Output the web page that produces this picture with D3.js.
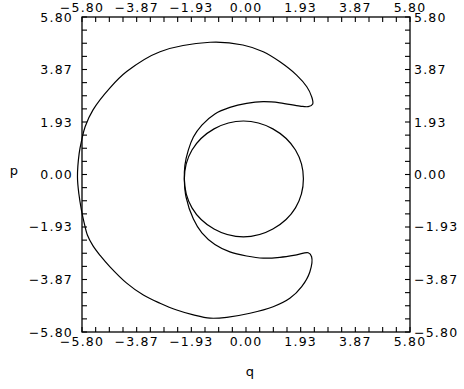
<!DOCTYPE html>
<html>
<head>
<meta charset="utf-8">
<script src="https://cdn.jsdelivr.net/npm/d3@7"></script>
<style>
  html, body { margin: 0; padding: 0; background: #fff; }
  svg { display: block; }
  text { font-family: "DejaVu Sans", sans-serif; fill: #000; }
</style>
</head>
<body>
<div id="chart"></div>
<script>
// axis ticks
const tickValues = [-5.80, -3.8667, -1.9333, 0.00, 1.9333, 3.8667, 5.80];
const tickLabels = ["\u22125.80", "\u22123.87", "\u22121.93", "0.00", "1.93", "3.87", "5.80"];

// crescent shaped orbit (q, p)
const orbitQ = [-5.96, -5.90, -5.81, -5.69, -5.41, -4.81, -4.22, -3.04, -1.27, -0.11,
  0.61, 1.20, 1.79, 2.15, 2.32, 2.36, 2.20, 1.91, 1.20, 0.61,
  0.02, -0.57, -1.10, -1.56, -1.86, -2.04, -2.16, -2.18, -2.12, -1.86,
  -1.56, -1.10, -0.57, 0.02, 0.61, 1.20, 1.79, 2.20, 2.32, 2.26,
  1.97, 1.55, 0.96, 0.14, -0.68, -1.27, -1.86, -2.45, -3.04, -3.63,
  -4.22, -4.81, -5.16, -5.41, -5.61, -5.73, -5.82, -5.91];
const orbitP = [-0.09, 0.78, 1.27, 1.76, 2.38, 3.19, 3.79, 4.52, 4.87, 4.77,
  4.52, 4.15, 3.66, 3.23, 2.87, 2.60, 2.50, 2.52, 2.64, 2.68,
  2.62, 2.47, 2.23, 1.82, 1.38, 0.90, 0.35, -0.20, -0.83, -1.64,
  -2.15, -2.58, -2.85, -3.00, -3.08, -3.05, -2.96, -2.88, -3.03, -3.58,
  -4.13, -4.56, -4.87, -5.11, -5.26, -5.29, -5.17, -4.99, -4.74, -4.44,
  -4.00, -3.40, -2.98, -2.63, -2.23, -1.75, -1.31, -0.72];

// inner circle (q, p)
const circleQ = [2.03, 1.75, 0.95, -0.09, -1.13, -1.91, -2.18, -1.91, -1.13, -0.09, 0.95, 1.75];
const circleP = [-0.16, 0.90, 1.68, 1.97, 1.68, 0.90, -0.16, -1.23, -2.01, -2.30, -2.01, -1.23];

const width = 464, height = 389;
const box = { left: 82, right: 410, top: 17, bottom: 332 };
const tickLen = 5;

const svg = d3.select('#chart').append('svg')
  .attr('width', width)
  .attr('height', height)
  .attr('viewBox', [0, 0, width, height]);

const x = d3.scaleLinear().domain([-5.8, 5.8]).range([box.left, box.right]);
const y = d3.scaleLinear().domain([-5.8, 5.8]).range([box.bottom, box.top]);

// minor ticks: 4 per major interval
const minorTicks = [];
for (let i = 0; i < tickValues.length - 1; i++) {
  const a = tickValues[i], b = tickValues[i + 1];
  for (let k = 0; k < 4; k++) minorTicks.push(a + (b - a) * k / 4);
}
minorTicks.push(tickValues[tickValues.length - 1]);

const frame = svg.append('g').attr('stroke', '#000').attr('stroke-width', 1.3).attr('fill', 'none');
frame.append('rect')
  .attr('x', box.left).attr('y', box.top)
  .attr('width', box.right - box.left).attr('height', box.bottom - box.top);

const tickG = svg.append('g').attr('stroke', '#000').attr('stroke-width', 1.1);
minorTicks.forEach(v => {
  // top and bottom
  tickG.append('line').attr('x1', x(v)).attr('x2', x(v)).attr('y1', box.top).attr('y2', box.top + tickLen);
  tickG.append('line').attr('x1', x(v)).attr('x2', x(v)).attr('y1', box.bottom).attr('y2', box.bottom - tickLen);
  // left and right
  tickG.append('line').attr('y1', y(v)).attr('y2', y(v)).attr('x1', box.left).attr('x2', box.left + tickLen);
  tickG.append('line').attr('y1', y(v)).attr('y2', y(v)).attr('x1', box.right).attr('x2', box.right - tickLen);
});

// tick labels
const lab = svg.append('g').attr('font-size', '12.5px').style('letter-spacing', '1.2px');
tickValues.forEach((v, i) => {
  lab.append('text').attr('x', x(v)).attr('y', 11.5).attr('text-anchor', 'middle').text(tickLabels[i]);
  lab.append('text').attr('x', x(v)).attr('y', 346).attr('text-anchor', 'middle').text(tickLabels[i]);
  lab.append('text').attr('x', 73).attr('y', y(v)).attr('dy', '0.36em').attr('text-anchor', 'end').text(tickLabels[i]);
  lab.append('text').attr('x', 414).attr('y', y(v)).attr('dy', '0.36em').attr('text-anchor', 'start').text(tickLabels[i]);
});

// axis titles
svg.append('text').attr('x', 250).attr('y', 376).attr('text-anchor', 'middle').attr('font-size', '13px').text('q');
svg.append('text').attr('x', 14).attr('y', 175).attr('text-anchor', 'middle').attr('font-size', '13px').text('p');

// curves
const line = d3.line()
  .x(d => x(d[0]))
  .y(d => y(d[1]))
  .curve(d3.curveCatmullRomClosed.alpha(0.5));

const orbit = orbitQ.map((q, i) => [q, orbitP[i]]);
const circle = circleQ.map((q, i) => [q, circleP[i]]);

svg.append('path').datum(orbit)
  .attr('d', line)
  .attr('fill', 'none').attr('stroke', '#000').attr('stroke-width', 1.2);

svg.append('path').datum(circle)
  .attr('d', line)
  .attr('fill', 'none').attr('stroke', '#000').attr('stroke-width', 1.2);
</script>
</body>
</html>
